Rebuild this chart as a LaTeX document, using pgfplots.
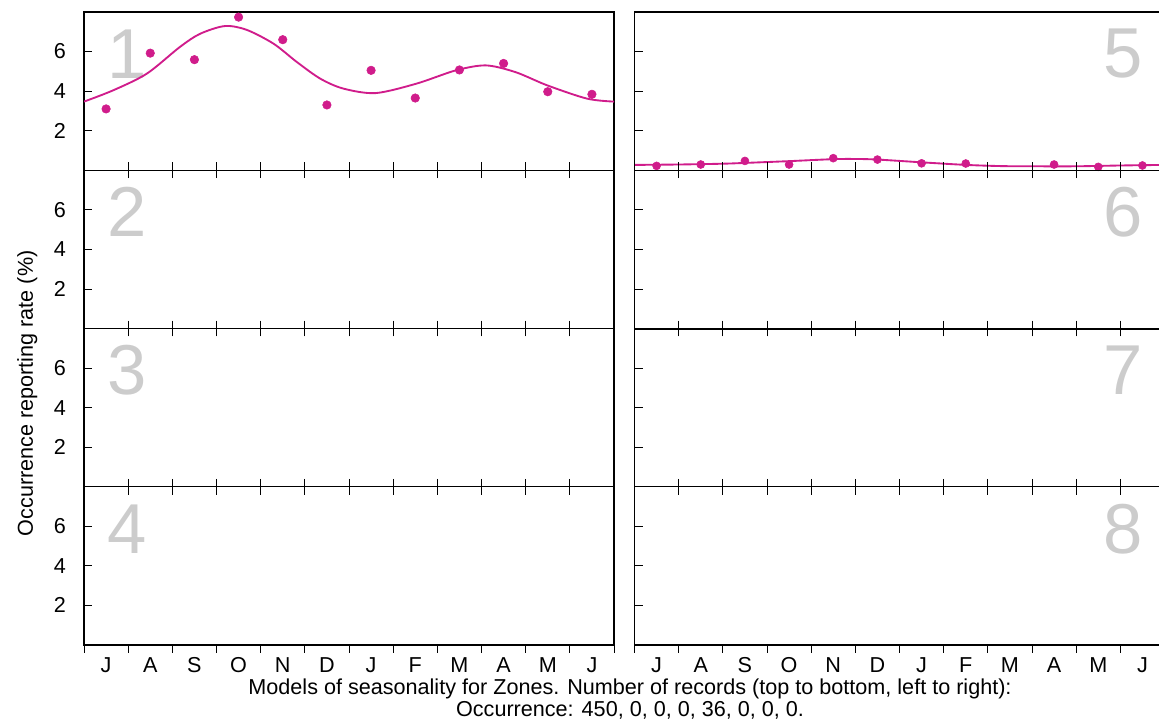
\documentclass[border=0pt]{standalone}
\usepackage{fontspec}
\setmainfont{Liberation Sans}
\usepackage{pgfplots}
\pgfplotsset{compat=1.18}
\definecolor{mag}{HTML}{D01C8B}
\definecolor{numgray}{HTML}{CCCCCC}

\newcommand{\lblfont}{\fontsize{16.2}{19}\selectfont}
\tikzset{bignum/.style={numgray, font=\fontsize{53}{53}\selectfont, inner sep=0pt}}
\pgfplotsset{
  panel/.style={
    scale only axis, width=397.5pt, height=118.6875pt,
    xmin=0, xmax=12, ymin=0, ymax=8,
    anchor=south west,
    axis line style={line width=0.8pt},
    tick align=outside,
    tick style={line width=0.6pt, black},
    major tick length=6pt, minor tick length=6pt,
    ytick={2,4,6}, ytick pos=left,
    major y tick style={xshift=6pt},
    xtick={0.5,1.5,...,11.5},
    minor xtick={0,1,...,12},
    major x tick style={draw=none},
    xticklabels={},
    xticklabel pos=bottom,
    ticklabel style={font=\lblfont},
    yticklabel style={xshift=-4pt},
    /pgf/number format/assume math mode=true,
  },
  toprow/.style={xtick pos=bottom},
  midrow/.style={xtick pos=both},
  rightcol/.style={yticklabels={}},
  bottomlabels/.style={xticklabels={J,A,S,O,N,D,J,F,M,A,M,J}},
  curve/.style={mag, line width=1.4pt, smooth},
  pts/.style={only marks, mark=*, mark size=3.2pt, color=mag, mark options={draw=mag, fill=mag}},
}

\begin{document}
\begin{tikzpicture}
\useasboundingbox (0,0) rectangle (869.25pt,540pt);

% ---------- left column ----------
\begin{axis}[panel, toprow, at={(63pt,412.3125pt)}]
\node[bignum] at (rel axis cs:0.081,0.735) {1};
\addplot[curve] coordinates {
(0,3.47) (0.66,4.04) (1.42,4.88) (2.17,6.23) (2.63,6.90) (3.19,7.29)
(3.68,7.10) (4.29,6.40) (4.82,5.47) (5.35,4.63) (5.87,4.13) (6.6,3.90)
(7.53,4.38) (8.42,5.05) (9.10,5.30) (9.77,4.96) (10.49,4.29) (11.39,3.62) (12,3.47)};
\addplot[pts] coordinates {
(0.5,3.10) (1.5,5.92) (2.5,5.59) (3.5,7.74) (4.5,6.60) (5.5,3.30)
(6.5,5.05) (7.5,3.65) (8.5,5.07) (9.5,5.40) (10.5,3.97) (11.5,3.84)};
\end{axis}

\begin{axis}[panel, midrow, at={(63pt,293.625pt)}]
\node[bignum] at (rel axis cs:0.081,0.735) {2};
\end{axis}

\begin{axis}[panel, midrow, at={(63pt,174.9375pt)}]
\node[bignum] at (rel axis cs:0.081,0.735) {3};
\end{axis}

\begin{axis}[panel, midrow, bottomlabels, at={(63pt,56.25pt)}]
\node[bignum] at (rel axis cs:0.081,0.735) {4};
\end{axis}

% ---------- right column ----------
\begin{axis}[panel, toprow, rightcol, at={(475.875pt,412.3125pt)}]
\node[bignum] at (rel axis cs:0.922,0.735) {5};
\addplot[curve] coordinates {
(0,0.27) (1,0.29) (2,0.33) (2.5,0.37) (3.5,0.46) (4.5,0.56) (5,0.57)
(5.5,0.54) (6.5,0.40) (7.5,0.27) (8.3,0.21) (9,0.20) (10,0.20) (11,0.24) (12,0.27)};
\addplot[pts, mark size=3pt] coordinates {
(0.5,0.22) (1.5,0.29) (2.5,0.47) (3.5,0.29) (4.5,0.61) (5.5,0.54)
(6.5,0.35) (7.5,0.34) (9.5,0.29) (10.5,0.17) (11.5,0.24)};
\end{axis}

\begin{axis}[panel, midrow, rightcol, at={(475.875pt,293.625pt)}]
\node[bignum] at (rel axis cs:0.922,0.735) {6};
\end{axis}

\begin{axis}[panel, midrow, rightcol, at={(475.875pt,174.9375pt)}]
\node[bignum] at (rel axis cs:0.922,0.735) {7};
\draw[line width=1.5pt] (rel axis cs:0,1) -- (rel axis cs:1,1);
\end{axis}

\begin{axis}[panel, midrow, rightcol, bottomlabels, at={(475.875pt,56.25pt)}]
\node[bignum] at (rel axis cs:0.922,0.735) {8};
\end{axis}

% ---------- labels ----------
\node[rotate=90, font=\lblfont] at (20.5pt,245pt) {Occurrence reporting rate (\%)};
\node[anchor=base, font=\lblfont, inner sep=0pt] at (472.5pt,19.1pt) {Models of seasonality for Zones. Number of records (top to bottom, left to right):};
\node[anchor=base, font=\lblfont, inner sep=0pt] at (472.5pt,2.6pt) {Occurrence: 450, 0, 0, 0, 36, 0, 0, 0.};
\end{tikzpicture}
\end{document}
